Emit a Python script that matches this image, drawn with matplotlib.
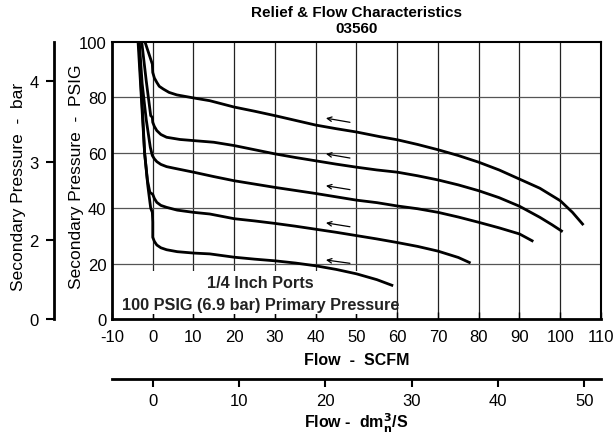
import matplotlib.pyplot as plt
from matplotlib.patches import Rectangle

plt.rcParams['font.family'] = ['Liberation Sans', 'DejaVu Sans']
plt.rcParams['axes.unicode_minus'] = False

# flow (SCFM) vs secondary pressure (PSIG), one pair of lists per curve
c1_x = [-1.9, -1.0, -0.1, 0, 0.4, 1, 1.6, 2.6, 4, 5.9, 10, 14, 20, 25, 30, 35, 40, 45, 50,
        55.8, 60, 65, 70, 75, 80, 85, 90, 95, 100, 103, 105.7]
c1_y = [100, 96, 92, 89, 87, 85.4, 84, 83, 81.8, 80.9, 79.8, 78.8, 76.5, 75, 73.4, 71.7, 70, 68.7, 67.5,
        65.8, 64.7, 63, 61.1, 59, 56.6, 53.8, 50.5, 47.2, 42.7, 38.5, 33.9]
c2_x = [-2.7, -1.6, -0.5, -0.1, 0, 0.4, 1, 2, 3.4, 6.7, 10, 15, 20, 25, 30, 35, 40, 45, 50,
        55, 60, 65, 70, 75, 80, 85, 90, 95, 98, 100.6]
c2_y = [100, 86, 73.4, 72.8, 71, 69.5, 68, 66.6, 65.6, 64.8, 64.4, 63.8, 62.6, 61.1, 59.6, 58.3, 57.1, 55.9, 54.8,
        53.8, 53, 51.7, 50.2, 48.4, 46.3, 43.8, 40.7, 36.7, 34, 31.5]
c3_x = [-3.3, -2.6, -1.6, -0.6, -0.1, 0.4, 1, 2, 3.4, 5, 10, 15, 20, 25, 30, 35, 40, 45, 50,
        55, 60, 65, 70, 75, 80, 85, 90, 93.4]
c3_y = [100, 85, 72, 62, 59, 57.8, 56.8, 55.8, 55, 54.5, 53, 51.4, 49.9, 48.7, 47.5, 46.4, 45.3, 44.1, 42.9,
        42, 40.8, 39.8, 38.5, 36.8, 34.9, 32.9, 30.7, 28]
c4_x = [-3.4, -2.9, -2.4, -2.0, -1.3, -0.7, 0, 0.4, 1, 2, 3.4, 6, 10, 14, 20, 25, 30, 35, 40, 45, 50,
        55, 60, 65, 70, 75, 78]
c4_y = [100, 85, 72, 60, 50, 45.7, 45, 43.5, 42.1, 41, 40.3, 39.3, 38.5, 37.9, 36.2, 35.4, 34.5, 33.5, 32.4, 31.3, 30.1,
        28.9, 27.6, 26.2, 24.5, 22.2, 20.2]
c5_x = [-3.6, -2.8, -2.0, -1.2, -0.5, -0.1, 0, 0, 0.4, 1, 2, 3.4, 6, 10, 14, 20, 25, 30, 35, 40, 45,
        50, 55, 59]
c5_y = [100, 80, 60, 48, 40, 38.5, 35, 29.5, 28, 26.7, 25.7, 25, 24.3, 23.8, 23.5, 22.3, 21.6, 21, 20.2, 19.2, 17.9,
        16.3, 14.2, 12]
curves = [(c1_x, c1_y), (c2_x, c2_y), (c3_x, c3_y), (c4_x, c4_y), (c5_x, c5_y)]

# direction arrows: tail -> head
arrow_tail_x = [48.4, 48.4, 48.4, 48.4, 48.4]
arrow_head_x = [42.5, 42.5, 42.5, 42.5, 42.5]
arrow_tail_y = [71, 58.1, 46.7, 33.3, 20.1]
arrow_head_y = [72.5, 59.6, 48.1, 34.7, 21.3]

x_ticks = list(range(-10, 111, 10))
y_ticks = list(range(0, 101, 20))
bar_labels = ['0', '2', '3', '4']
bar_tick_psi = [0, 28.5, 56.5, 86]  # as printed on the original
dm3_ticks = [0, 10, 20, 30, 40, 50]
SCFM_PER_DM3S = 2.1189

fig = plt.figure(figsize=(6.14, 4.39), dpi=100)
ax = fig.add_axes([0.1824, 0.2711, 0.7964, 0.631])
ax.set_xlim(-10, 110)
ax.set_ylim(0, 100)

for x in range(0, 101, 10):
    ax.axvline(x, color='#222222', lw=0.9, zorder=1)
for y in range(20, 81, 20):
    ax.axhline(y, color='#555555', lw=0.9, zorder=1)
ax.add_patch(Rectangle((-10, 1.9), 67.5, 15.5, facecolor='white', edgecolor='none', zorder=2))

for cx, cy in curves:
    ax.plot(cx, cy, color='black', lw=2.0, zorder=4, solid_joinstyle='round', solid_capstyle='butt')

for tx, ty, hx, hy in zip(arrow_tail_x, arrow_tail_y, arrow_head_x, arrow_head_y):
    ax.annotate('', xy=(hx, hy), xytext=(tx, ty),
                arrowprops=dict(arrowstyle='->', lw=0.9, color='black', mutation_scale=8,
                                shrinkA=0, shrinkB=0), zorder=5)

ax.text(26.5, 13, '1/4 Inch Ports', ha='center', va='center', fontsize=11.7,
        fontweight='bold', color='#222222', zorder=3)
ax.text(26.5, 5.4, '100 PSIG (6.9 bar) Primary Pressure', ha='center', va='center',
        fontsize=11.7, fontweight='bold', color='#222222', zorder=3)

ax.set_xticks(x_ticks)
ax.set_yticks(y_ticks)
ax.tick_params(axis='x', direction='in', length=5, width=1, labelsize=12, pad=7)
ax.tick_params(axis='y', length=0, labelsize=12, pad=4)
for s in ['left', 'bottom']:
    ax.spines[s].set_linewidth(2)
for s in ['top', 'right']:
    ax.spines[s].set_linewidth(1.5)
ax.set_xlabel('Flow  -  SCFM', fontsize=11.5, fontweight='bold', labelpad=6)
fig.text(0.1254, 0.598, 'Secondary Pressure  -  PSIG', rotation=90, ha='center', va='center',
         fontsize=12.5)

ax.text(0.5, 1.08, 'Relief & Flow Characteristics\n03560', transform=ax.transAxes,
        ha='center', va='center', fontsize=11, fontweight='bold', linespacing=1.2)

# bar scale on the left
bar = ax.secondary_yaxis(-0.119)
bar.set_yticks(bar_tick_psi, bar_labels)
bar.spines['left'].set_linewidth(2)
bar.tick_params(length=6, width=1.5, labelsize=12, pad=5)
fig.text(0.030, 0.575, 'Secondary Pressure  -  bar', rotation=90, ha='center', va='center',
         fontsize=12.5)

# dm3/s scale below
dm = ax.secondary_xaxis(-0.217, functions=(lambda s: s / SCFM_PER_DM3S, lambda d: d * SCFM_PER_DM3S))
dm.set_xticks(dm3_ticks)
dm.spines['bottom'].set_linewidth(2)
dm.tick_params(direction='out', length=6, width=1.5, labelsize=12, pad=4)
dm.set_xlabel(r'Flow -  dm$\mathbf{_n^3}$/S', fontsize=11.5, fontweight='bold', labelpad=2)

fig.savefig('out.png', dpi=100)
